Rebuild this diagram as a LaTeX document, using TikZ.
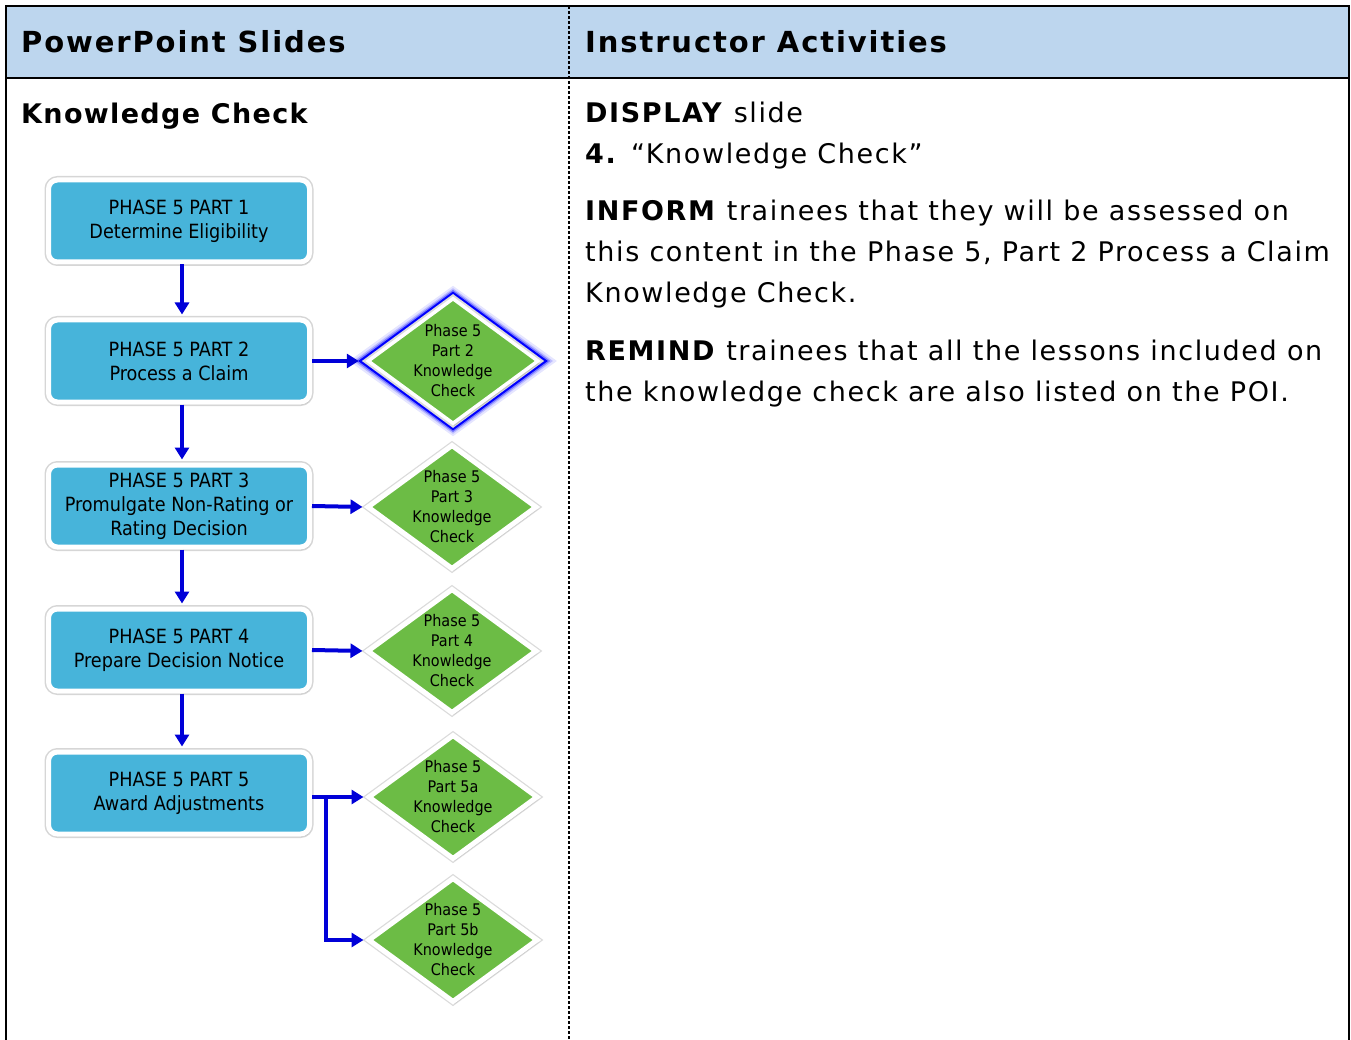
\documentclass[tikz,border=0pt]{standalone}
\usepackage{fontspec}
\setmainfont{DejaVu Sans}
\newfontfamily\condf{DejaVu Sans Condensed}
\newfontfamily\bodyf[LetterSpace=6]{DejaVu Sans}
\newfontfamily\hdrf[LetterSpace=6.5]{DejaVu Sans}
\newfontfamily\subf[LetterSpace=5]{DejaVu Sans}
\usetikzlibrary{shapes.geometric,arrows.meta,shadows}
\definecolor{hdr}{HTML}{BDD6EE}
\definecolor{boxblue}{HTML}{47B4DA}
\definecolor{kgreen}{HTML}{6CBC45}
\definecolor{arrblue}{HTML}{0000D8}
\tikzset{
  frame/.style={line width=2pt, black},
  sep/.style={line width=1.2pt, black, dash pattern=on 3pt off 2pt},
  hdrtext/.style={anchor=base west, inner sep=0pt, font=\hdrf\fontsize{29}{30}\selectfont\bfseries},
  subtext/.style={anchor=base west, inner sep=0pt, font=\subf\fontsize{27}{30}\selectfont\bfseries},
  bodytext/.style={anchor=base west, inner sep=0pt, font=\bodyf\fontsize{27}{30}\selectfont},
  phasebox/.style={rectangle, rounded corners=9pt, fill=boxblue, draw=white, line width=5pt,
    minimum width=261pt, minimum height=82pt, inner sep=0pt, align=center,
    font=\condf\fontsize{19.6}{24}\selectfont,
    preaction={draw=black!16, line width=8pt},
    drop shadow={shadow xshift=1.5pt, shadow yshift=-2.5pt, opacity=0.22, fill=black!60}},
  kc/.style={diamond, fill=kgreen, draw=white, line width=5pt, minimum width=170pt,
    minimum height=125pt, inner sep=0pt,
    preaction={draw=black!14, line width=7.5pt},
    drop shadow={shadow xshift=1.5pt, shadow yshift=-2.5pt, opacity=0.22, fill=black!60}},
  kctext/.style={align=center, inner sep=0pt, font=\condf\fontsize{16}{20}\selectfont},
  glow/.style={diamond, draw=blue, minimum width=182pt, minimum height=134pt, inner sep=0pt},
  flow/.style={draw=arrblue, line width=4pt, -{Triangle[length=12pt,width=14pt]}},
}
\begin{document}
\begin{tikzpicture}[x=1pt,y=-1pt]
\useasboundingbox (0,0) rectangle (1351,1040);
% header
\fill[hdr] (6,6) rectangle (1349,78);
\draw[frame] (6,1041) -- (6,6) -- (1349,6) -- (1349,1041);
\draw[line width=1.6pt] (6,78) -- (1349,78);
\draw[sep] (569,6) -- (569,1041);
\node[hdrtext] (h1) at (21,53) {PowerPoint Slides};
\node[hdrtext] (h2) at (585,53) {Instructor Activities};
\node[subtext] (kt) at (21,124) {Knowledge Check};
% right column text
\node[bodytext] (r1) at (585,123) {\textbf{DISPLAY} slide};
\node[bodytext] (r2) at (585,164) {\textbf{4.} “Knowledge Check”};
\node[bodytext] (r3) at (585,221) {\textbf{INFORM} trainees that they will be assessed on};
\node[bodytext] (r4) at (585,262) {this content in the Phase 5, Part 2 Process a Claim};
\node[bodytext] (r5) at (585,303) {Knowledge Check.};
\node[bodytext] (r6) at (585,360) {\textbf{REMIND} trainees that all the lessons included on};
\node[bodytext] (r7) at (585,401) {the knowledge check are also listed on the POI.};
% phase boxes
\node[phasebox] (b1) at (179,221) {PHASE 5 PART 1\\Determine Eligibility};
\node[phasebox] (b2) at (179,361) {PHASE 5 PART 2\\Process a Claim};
\node[phasebox] (b3) at (179,506) {PHASE 5 PART 3\\Promulgate Non-Rating or\\Rating Decision};
\node[phasebox] (b4) at (179,650) {PHASE 5 PART 4\\Prepare Decision Notice};
\node[phasebox] (b5) at (179,793) {PHASE 5 PART 5\\Award Adjustments};
% highlighted diamond glow
\node[glow, opacity=0.10, line width=20pt] at (453,361) {};
\node[glow, opacity=0.18, line width=14pt] at (453,361) {};
\node[glow, opacity=0.35, line width=10pt] at (453,361) {};
\node[glow, line width=6pt] at (453,361) {};
% diamonds
\node[kc, draw=white, line width=3.5pt, minimum width=171pt, minimum height=126pt, preaction={draw=none}, drop shadow={opacity=0}] (d2) at (453,361) {};
\node[kc] (d3) at (452,507) {};
\node[kc] (d4) at (452,651) {};
\node[kc] (d5a) at (453,797) {};
\node[kc] (d5b) at (453,940) {};
\node[kctext] (t2) at (d2) {Phase 5\\Part 2\\Knowledge\\Check};
\node[kctext] (t3) at (d3) {Phase 5\\Part 3\\Knowledge\\Check};
\node[kctext] (t4) at (d4) {Phase 5\\Part 4\\Knowledge\\Check};
\node[kctext] (t5a) at (d5a) {Phase 5\\Part 5a\\Knowledge\\Check};
\node[kctext] (t5b) at (d5b) {Phase 5\\Part 5b\\Knowledge\\Check};
% vertical arrows
\foreach \a/\b in {b1/b2,b2/b3,b3/b4,b4/b5}
  \draw[flow, shorten >=3pt] ([xshift=3pt]\a.south) -- ([xshift=3pt]\b.north);
% horizontal arrows
\draw[flow, shorten >=7pt] (b2.east) -- (d2.west);
\draw[flow, shorten >=2pt] (b3.east) -- (d3.west);
\draw[flow, shorten >=2pt] (b4.east) -- (d4.west);
\draw[flow, shorten >=2pt] ([yshift=-4pt]b5.east) -- (d5a.west);
\coordinate (br) at (326,797);
\draw[flow, shorten >=2pt] (br) |- (d5b.west);
\end{tikzpicture}
\end{document}
